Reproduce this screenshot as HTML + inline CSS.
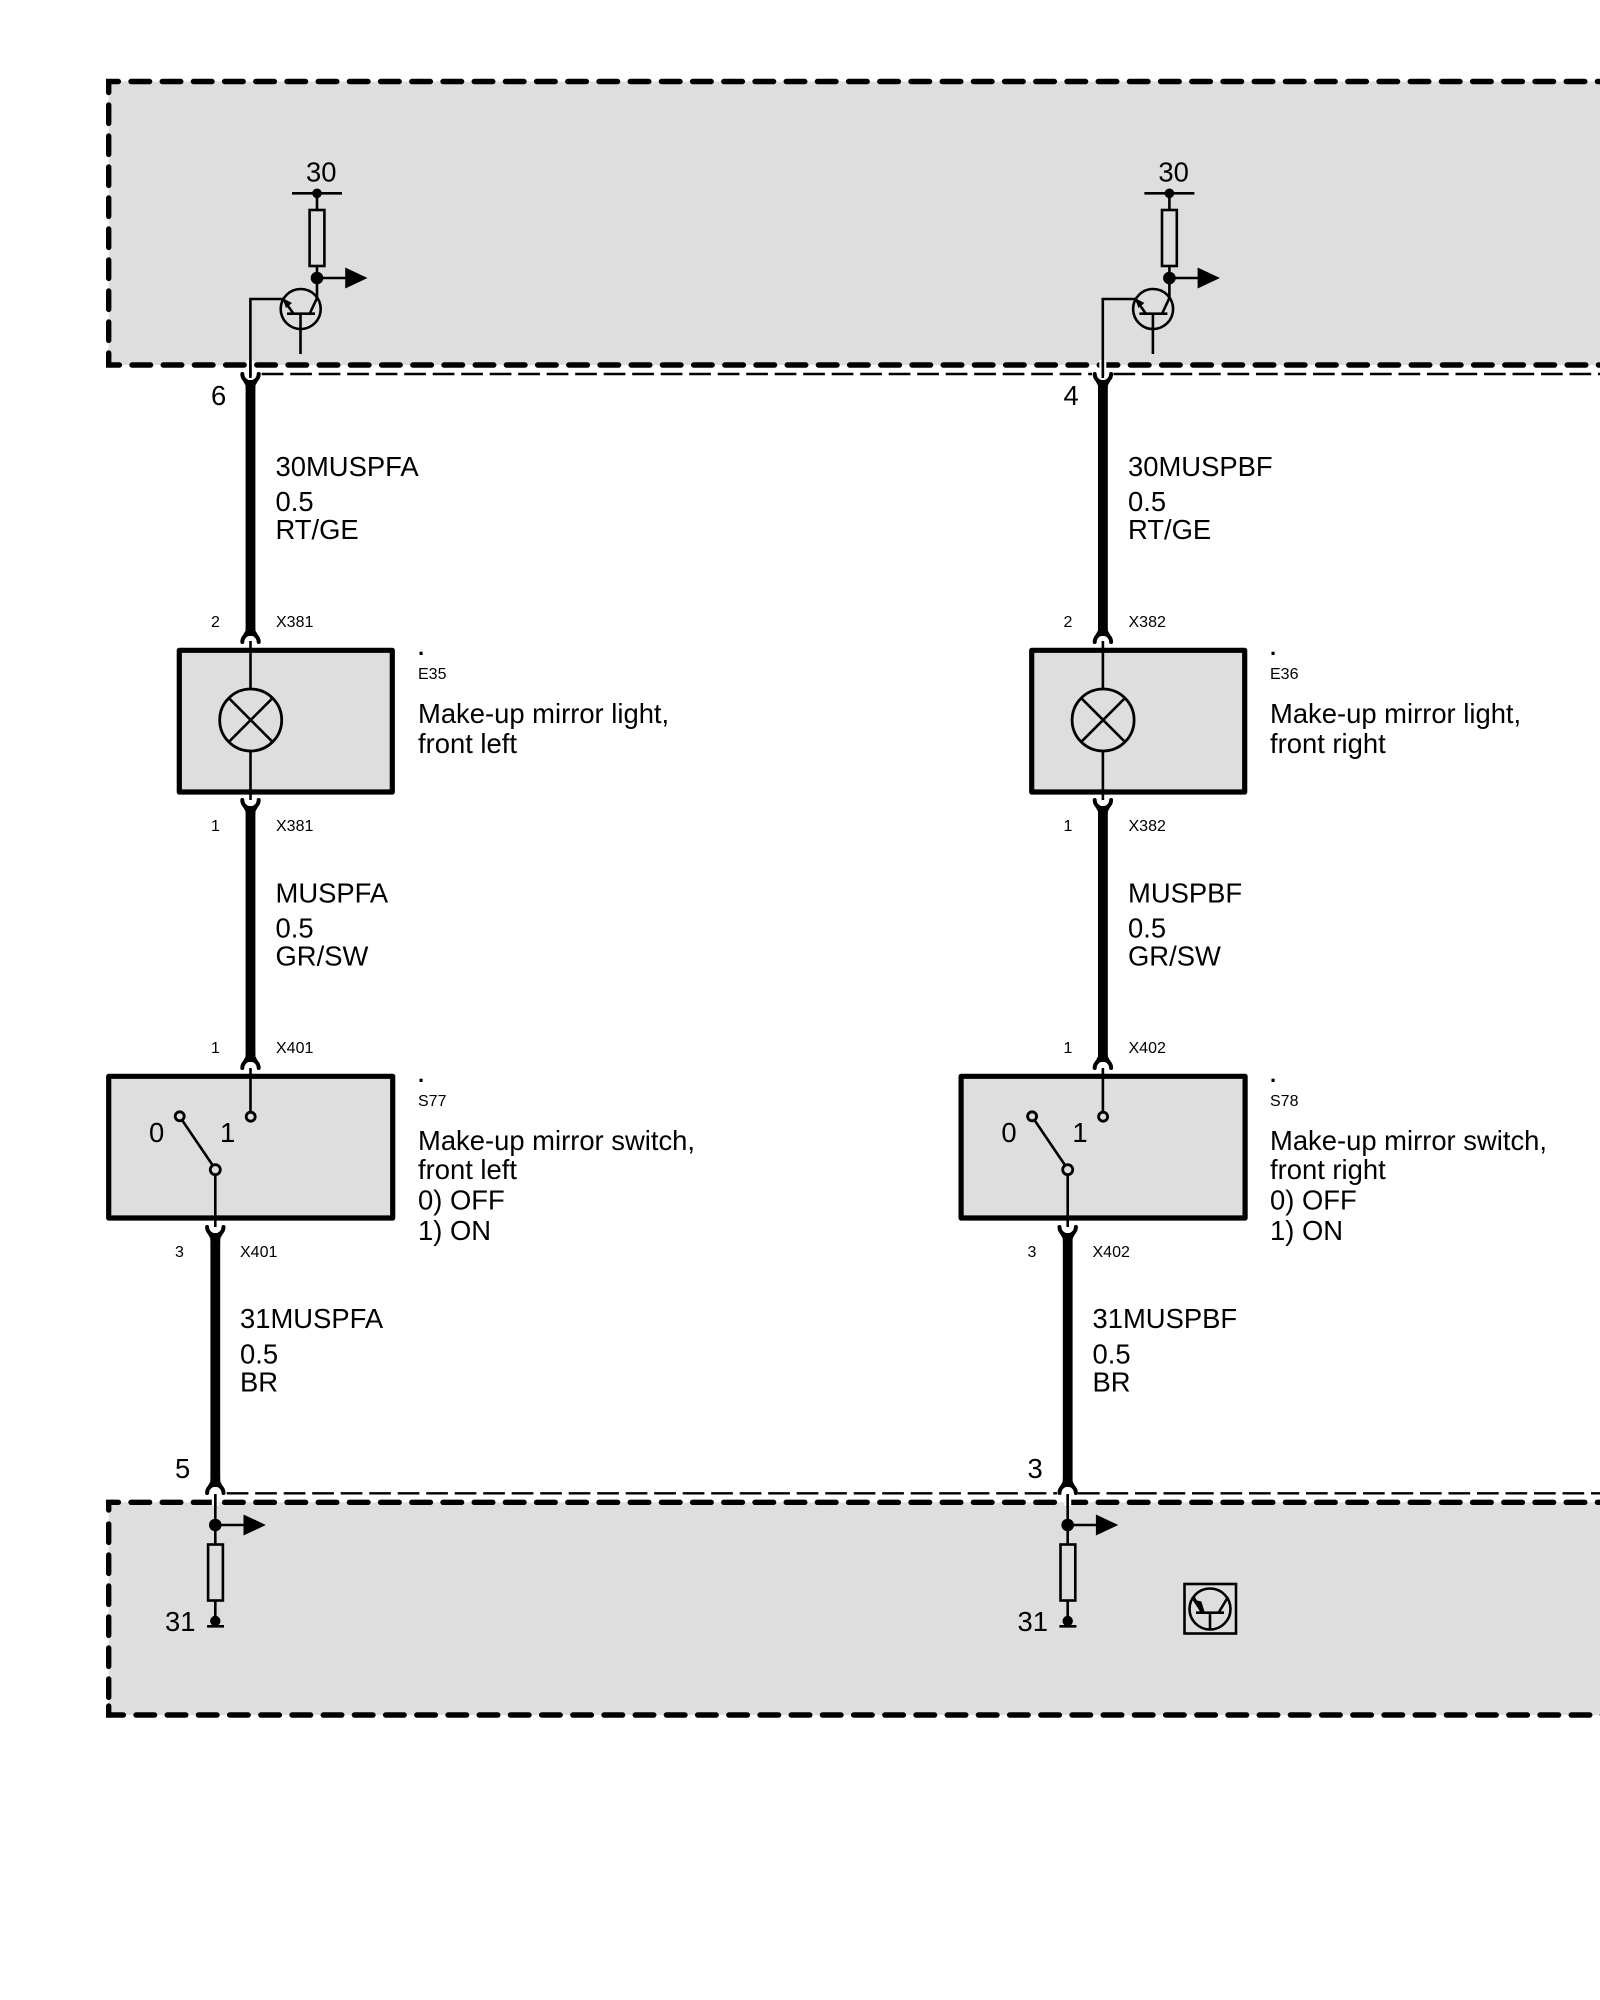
<!DOCTYPE html>
<html><head><meta charset="utf-8"><style>
html,body{margin:0;padding:0;background:#fff}
svg{display:block}
text{font-family:"Liberation Sans",sans-serif;fill:#000}
.b{font-size:27.4px}.s{font-size:16px}
</style></head><body>
<svg width="1600" height="2000" viewBox="0 0 1600 2000" xmlns="http://www.w3.org/2000/svg">
<defs>
<g id="fork"><path d="M-8.200 0A8.200 8.200 0 0 1 8.200 0" fill="none" stroke="#000" stroke-width="4" stroke-linecap="round"/><path d="M-4.900 -14L4.900 -14L4.900 -11.500L8 -6L-8 -6L-4.900 -11.500Z" fill="#000"/></g>
<g id="res"><rect x="-7.400" y="0" width="14.800" height="56" fill="#dedede" stroke="#000" stroke-width="2.600"/></g>
<g id="arrow"><path d="M0 0H30" stroke="#000" stroke-width="2.600"/><path d="M29.500 -8.500L47.500 0L29.500 8.500Z" fill="#000"/><circle r="5" fill="#000"/></g>
<g id="top" fill="none" stroke="#000" stroke-width="2.600">
<path d="M317 193V210M292 193.300H342M317 266V298L310 313M250.400 376V299H283M283 299L293 313M287 313.700H315M300.500 313.700V354"/>
<circle cx="300.700" cy="309" r="20"/>
<use href="#res" x="317" y="210"/>
<circle cx="317" cy="193.300" r="4.800" fill="#000" stroke="none"/>
<use href="#arrow" x="317" y="278"/>
<path d="M282.500 298L292 303L286 308Z" fill="#000" stroke="none"/>
</g>
<g id="lamp">
<rect x="179.300" y="650.300" width="213" height="141.700" fill="#dedede" stroke="#000" stroke-width="5.200" stroke-linejoin="round"/>
<path d="M250.500 641V689M250.500 752V800" stroke="#000" stroke-width="2.600"/>
<circle cx="250.700" cy="720" r="31" fill="#dedede" stroke="#000" stroke-width="2.800"/>
<path d="M228.800 698.100L272.600 741.900M272.600 698.100L228.800 741.900" stroke="#000" stroke-width="2.600"/>
</g>
<g id="sw">
<rect x="108.700" y="1076.300" width="284" height="141.700" fill="#dedede" stroke="#000" stroke-width="5.200" stroke-linejoin="round"/>
<path d="M250.500 1068V1112M215.300 1175V1227M182 1120L212.500 1165" stroke="#000" stroke-width="2.600" fill="none"/>
<circle cx="250.700" cy="1116.700" r="4.500" fill="#dedede" stroke="#000" stroke-width="2.800"/>
<circle cx="179.700" cy="1116.300" r="4.500" fill="#dedede" stroke="#000" stroke-width="2.800"/>
<circle cx="215.300" cy="1169.700" r="5" fill="#dedede" stroke="#000" stroke-width="2.800"/>
</g>
<g id="bot" fill="none" stroke="#000" stroke-width="2.600">
<path d="M215.300 1495V1544M215.300 1601V1621M207 1626.300H224"/>
<use href="#res" x="215.500" y="1544.500"/>
<use href="#arrow" x="215.300" y="1525"/>
<circle cx="215.300" cy="1621" r="5.200" fill="#000" stroke="none"/>
</g>
<g id="wires" stroke="#000" stroke-width="9.800">
<path d="M250.500 381V634M250.500 807V1060M215.300 1234V1484"/>
</g>
</defs>

<rect x="108.700" y="81.500" width="1500" height="283.500" fill="#dedede"/>
<rect x="108.700" y="1502.300" width="1500" height="212.700" fill="#dedede"/>

<g fill="none" stroke="#000" stroke-width="5.400" stroke-linecap="round">
<path d="M118.400 81.500H108.700V92.500"/>
<path d="M131 81.500H1604" stroke-dasharray="18.600 12.600"/>
<path d="M108.700 105V355" stroke-dasharray="18.400 12.600"/>
<path d="M108.700 355V365H119.400"/>
<path d="M132 365H1604" stroke-dasharray="18.600 12.600"/>
<path d="M118.400 1502.300H108.700V1510"/>
<path d="M131 1502.300H1604" stroke-dasharray="18.600 12.600"/>
<path d="M108.700 1524V1700" stroke-dasharray="18.400 12.600"/>
<path d="M108.700 1706V1715H123.400"/>
<path d="M136 1715H1604" stroke-dasharray="18.600 12.600"/>
</g>
<g stroke="#fff" stroke-width="7">
<path d="M250.400 360V370M1102.800 360V370M215.300 1498V1506M1067.700 1498V1506"/>
</g>

<g fill="none" stroke="#000" stroke-width="2.400">
<path d="M261.700 374H1092M1113.500 374H1604" stroke-dasharray="21.700 6.800"/>
<path d="M226.700 1493.300H1057M1078 1493.300H1604" stroke-dasharray="21.700 6.800"/>
</g>

<use href="#wires"/><use href="#wires" x="852.400"/>
<use href="#top"/><use href="#top" x="852.400"/>
<use href="#lamp"/><use href="#lamp" x="852.400"/>
<use href="#sw"/><use href="#sw" x="852.400"/>
<use href="#bot"/><use href="#bot" x="852.400"/>

<g>
<use href="#fork" transform="translate(250.500 642)"/>
<use href="#fork" transform="translate(250.500 800) rotate(180)"/>
<use href="#fork" transform="translate(250.500 1068)"/>
<use href="#fork" transform="translate(215.300 1227) rotate(180)"/>
<use href="#fork" transform="translate(215.300 1493)"/>
<use href="#fork" transform="translate(250.500 374) rotate(180)"/>
<use href="#fork" transform="translate(1102.900 642)"/>
<use href="#fork" transform="translate(1102.900 800) rotate(180)"/>
<use href="#fork" transform="translate(1102.900 1068)"/>
<use href="#fork" transform="translate(1067.700 1227) rotate(180)"/>
<use href="#fork" transform="translate(1067.700 1493)"/>
<use href="#fork" transform="translate(1102.900 374) rotate(180)"/>
</g>
<path d="M250.400 360V378M1102.800 360V378M215.300 1494V1508M1067.700 1494V1508" stroke="#000" stroke-width="2.600"/>

<g fill="none" stroke="#000" stroke-width="2.600">
<rect x="1184.500" y="1584" width="51.500" height="49.500"/>
<circle cx="1210" cy="1609" r="20.500"/>
<path d="M1196 1612.700H1224M1210 1612.700V1630M1228 1597L1219 1612M1193.500 1597L1201.700 1612"/>
<path d="M1196 1602L1203 1612.500L1200 1603Z" stroke-width="3.500" fill="#000"/>
</g>

<g class="b">
<text x="306" y="181.500">30</text><text x="1158.400" y="181.500">30</text>
<text x="211" y="405">6</text><text x="1063.500" y="405">4</text>
<text x="275.500" y="476">30MUSPFA</text><text x="1128" y="476">30MUSPBF</text>
<text x="275.500" y="511">0.5</text><text x="1128" y="511">0.5</text>
<text x="275.500" y="539">RT/GE</text><text x="1128" y="539">RT/GE</text>
<text x="418" y="723">Make-up mirror light,</text><text x="1270" y="723">Make-up mirror light,</text>
<text x="418" y="753">front left</text><text x="1270" y="753">front right</text>
<text x="275.500" y="902.500">MUSPFA</text><text x="1128" y="902.500">MUSPBF</text>
<text x="275.500" y="937.500">0.5</text><text x="1128" y="937.500">0.5</text>
<text x="275.500" y="965.500">GR/SW</text><text x="1128" y="965.500">GR/SW</text>
<text x="149" y="1142">0</text><text x="1001.400" y="1142">0</text>
<text x="220" y="1142">1</text><text x="1072.400" y="1142">1</text>
<text x="418" y="1150">Make-up mirror switch,</text><text x="1270" y="1150">Make-up mirror switch,</text>
<text x="418" y="1179">front left</text><text x="1270" y="1179">front right</text>
<text x="418" y="1209.300">0) OFF</text><text x="1270" y="1209.300">0) OFF</text>
<text x="418" y="1240">1) ON</text><text x="1270" y="1240">1) ON</text>
<text x="240" y="1328">31MUSPFA</text><text x="1092.500" y="1328">31MUSPBF</text>
<text x="240" y="1363.500">0.5</text><text x="1092.500" y="1363.500">0.5</text>
<text x="240" y="1391.500">BR</text><text x="1092.500" y="1391.500">BR</text>
<text x="175" y="1478">5</text><text x="1027.500" y="1478">3</text>
<text x="165" y="1631">31</text><text x="1017.500" y="1631">31</text>
</g>
<g class="s">
<text x="211" y="627">2</text><text x="1063.500" y="627">2</text>
<text x="276" y="627">X381</text><text x="1128.500" y="627">X382</text>
<text x="211" y="831">1</text><text x="1063.500" y="831">1</text>
<text x="276" y="831">X381</text><text x="1128.500" y="831">X382</text>
<text x="211" y="1053">1</text><text x="1063.500" y="1053">1</text>
<text x="276" y="1053">X401</text><text x="1128.500" y="1053">X402</text>
<text x="175" y="1257">3</text><text x="1027.500" y="1257">3</text>
<text x="240" y="1257">X401</text><text x="1092.500" y="1257">X402</text>
<text x="418" y="679">E35</text><text x="1270" y="679">E36</text>
<text x="418" y="1106">S77</text><text x="1270" y="1106">S78</text>
<text x="418" y="655" font-size="22" font-weight="bold">.</text><text x="1270" y="655" font-size="22" font-weight="bold">.</text>
<text x="418" y="1082" font-size="22" font-weight="bold">.</text><text x="1270" y="1082" font-size="22" font-weight="bold">.</text>
</g>
</svg>
</body></html>
